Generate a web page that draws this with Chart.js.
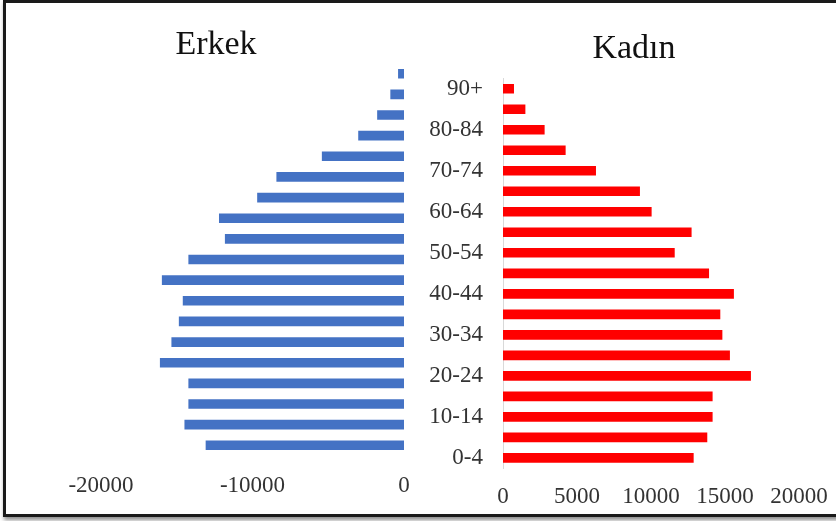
<!DOCTYPE html>
<html>
<head>
<meta charset="utf-8">
<script src="https://cdn.jsdelivr.net/npm/chart.js@4"></script>
<style>
  html, body { margin: 0; padding: 0; background: #fff; overflow: hidden; }
  #wrap { position: relative; width: 836px; height: 521px; overflow: hidden; }
  #chartMale { position: absolute; left: 0; top: 0; }
  #chartFemale { position: absolute; left: 420px; top: 0; }
  #frame {
    position: absolute; left: 3px; top: 0; width: 900px; height: 511px;
    border: 3px solid #1a1a1a; box-shadow: 1px 3px 4px rgba(0,0,0,0.45);
    pointer-events: none;
  }
</style>
</head>
<body>
<div id="wrap">
  <canvas id="chartMale" width="432" height="540"></canvas>
  <canvas id="chartFemale" width="428" height="540"></canvas>
  <div id="frame"></div>
</div>
<script>
// age groups, youngest first (drawn bottom-up)
const ages = ["0-4", "5-9", "10-14", "15-19", "20-24", "25-29", "30-34", "35-39", "40-44",
  "45-49", "50-54", "55-59", "60-64", "65-69", "70-74", "75-79", "80-84", "85-89", "90+"];

const erkek = [13070, 14470, 14210, 14210, 16090, 15330, 14840, 14580, 15960,
  14210, 11800, 12190, 9670, 8400, 5400, 3000, 1750, 880, 370];

const kadin = [12860, 13780, 14140, 14140, 16730, 15310, 14800, 14660, 15580,
  13900, 11580, 12720, 10020, 9230, 6260, 4210, 2790, 1490, 720];

const maleTicks = [-20000, -10000, 0];
const femaleTicks = [0, 5000, 10000, 15000, 20000];

Chart.defaults.color = "#333333";
Chart.defaults.font.family = "Liberation Serif";
Chart.defaults.animation = false;

const ctx = document.getElementById("chartMale");

new Chart(ctx, {
  type: "bar",
  data: {
    labels: ages,
    datasets: [
      {
        label: "Erkek",
        data: erkek.map((v) => -v),
        backgroundColor: "#4472C4",
        barThickness: 9,
      },
    ],
  },
  options: {
    indexAxis: "y",
    responsive: false,
    layout: {
      padding: { left: 28, right: 28, top: 0, bottom: 24 },
    },
    plugins: {
      legend: { display: false },
      tooltip: { enabled: false },
      title: {
        display: true,
        text: "Erkek",
        color: "#111",
        font: { size: 34, weight: "normal", lineHeight: 1 },
        padding: { top: 28.4, bottom: 1 },
      },
    },
    scales: {
      x: {
        min: maleTicks[0],
        max: maleTicks[maleTicks.length - 1],
        afterBuildTicks: (scale) => {
          scale.ticks = maleTicks.map((v) => ({ value: v }));
        },
        grid: { display: false, drawTicks: false },
        border: { display: false },
        ticks: {
          padding: 16.4,
          font: { size: 23 },
          callback: (v) => String(v),
        },
      },
      y: {
        reverse: true,
        // empty axis that only keeps the room left of the bars
        afterFit: (scale) => {
          scale.width = 73;
        },
        grid: { display: false, drawTicks: false },
        border: { display: false },
        ticks: { display: false },
      },
    },
  },
});

const ctx2 = document.getElementById("chartFemale");

new Chart(ctx2, {
  type: "bar",
  data: {
    labels: ages,
    datasets: [
      {
        label: "Kadın",
        data: kadin,
        backgroundColor: "#FF0000",
        barThickness: 9,
      },
    ],
  },
  options: {
    indexAxis: "y",
    responsive: false,
    layout: {
      padding: { left: 0, right: 0, top: 0, bottom: 13.7 },
    },
    plugins: {
      legend: { display: false },
      tooltip: { enabled: false },
      title: {
        display: true,
        text: "Kadın",
        color: "#111",
        font: { size: 34, weight: "normal", lineHeight: 1 },
        padding: { top: 32.4, bottom: 12.1 },
      },
    },
    scales: {
      x: {
        min: femaleTicks[0],
        max: femaleTicks[femaleTicks.length - 1],
        afterBuildTicks: (scale) => {
          scale.ticks = femaleTicks.map((v) => ({ value: v }));
        },
        grid: { display: false, drawTicks: false },
        border: { display: false },
        ticks: {
          padding: 15.3,
          font: { size: 23 },
          callback: (v) => String(v),
        },
      },
      y: {
        reverse: true,
        afterFit: (scale) => {
          scale.width = 83;
        },
        grid: { display: false, drawTicks: false },
        border: { display: true, color: "#d9d9d9", width: 1 },
        ticks: {
          autoSkip: false,
          padding: 20,
          font: { size: 23 },
          callback: function (value, index) {
            return index % 2 === 0 ? ages[index] : "";
          },
        },
      },
      // blank axis on the right, only there so the title sits where it should
      y2: {
        type: "category",
        position: "right",
        afterFit: (scale) => {
          scale.width = 49;
        },
        grid: { display: false, drawTicks: false },
        border: { display: false },
        ticks: { display: false },
      },
    },
  },
});
</script>
</body>
</html>
